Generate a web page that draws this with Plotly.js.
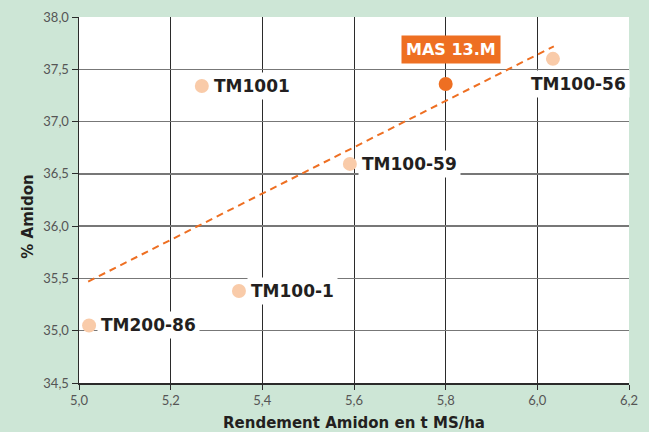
<!DOCTYPE html>
<html>
<head>
<meta charset="utf-8">
<script src="https://cdn.plot.ly/plotly-3.0.1.min.js"></script>
<style>html,body{margin:0;padding:0;background:#cde6d6;}</style>
</head>
<body>
<div id="chart" style="width:649px;height:432px;"></div>
<script>
const names = ["TM200-86", "TM100-1", "TM1001", "TM100-59", "MAS 13.M", "TM100-56"];
const rendement = [5.022, 5.349, 5.268, 5.591, 5.80, 6.034];
const amidon = [35.05, 35.38, 37.34, 36.595, 37.36, 37.60];
const trendX = [5.02, 6.036];
const trendY = [35.47, 37.72];
const highlight = "MAS 13.M";
const yTitle = "% Amidon";
const xTitle = "Rendement Amidon en t MS/ha";

const peach = "#f9cba9";
const orange = "#ee6f22";

const others = names.map((n,i)=>i).filter(i=>names[i]!==highlight);
const hi = names.indexOf(highlight);

const traces = [
  {x: trendX, y: trendY, mode: "lines", line: {color: orange, width: 2, dash: "7px,5px"}, hoverinfo: "skip"},
  {x: others.map(i=>rendement[i]), y: others.map(i=>amidon[i]), mode: "markers",
   marker: {color: peach, size: 14}},
  {x: [rendement[hi]], y: [amidon[hi]], mode: "markers", marker: {color: orange, size: 14}}
];

const FF = "DejaVu Sans, sans-serif";
const labelFont = {family: FF, size: 17, color: "#231f20"};
const anns = [];
names.forEach((n,i)=>{
  if (n === highlight) {
    anns.push({x: rendement[i], y: amidon[i], xref: "x", yref: "y", text: "<b>" + n + "</b>",
      showarrow: false, xanchor: "center", yanchor: "middle", xshift: 5, yshift: 34,
      bgcolor: orange, font: {family: FF, size: 16, color: "#ffffff"}, borderpad: 4});
  } else if (n === "TM100-56") {
    anns.push({x: rendement[i], y: amidon[i], xref: "x", yref: "y", text: "<b>" + n + "</b>",
      showarrow: false, xanchor: "center", yanchor: "middle", xshift: 26, yshift: -25,
      bgcolor: "#ffffff", font: labelFont, borderpad: 3});
  } else {
    anns.push({x: rendement[i], y: amidon[i], xref: "x", yref: "y", text: "<b>" + n + "</b>",
      showarrow: false, xanchor: "left", yanchor: "middle", xshift: 8, yshift: 0,
      bgcolor: "#ffffff", font: labelFont, borderpad: 3});
  }
});
anns.push({xref: "paper", yref: "paper", x: -0.093, y: 0.454, text: "<b>" + yTitle + "</b>",
  textangle: -90, showarrow: false, xanchor: "center", yanchor: "middle",
  font: {family: FF, size: 15, color: "#231f20"}});

const layout = {
  width: 649, height: 432,
  paper_bgcolor: "#cde6d6", plot_bgcolor: "#ffffff",
  margin: {l: 79, r: 20, t: 17, b: 49},
  showlegend: false,
  separators: ",.",
  xaxis: {range: [5.0, 6.2], dtick: 0.2, tick0: 5.0, tickformat: ".1f",
    showgrid: true, gridcolor: "#2b2b2b", gridwidth: 1,
    showline: true, linecolor: "#2b2b2b", linewidth: 1.5,
    ticks: "outside", ticklen: 5, tickcolor: "#2b2b2b",
    zeroline: false,
    tickfont: {family: "Lato, sans-serif", size: 13, color: "#555555"},
    title: {text: "<b>" + xTitle + "</b>", standoff: 10,
      font: {family: FF, size: 15, color: "#231f20"}}},
  yaxis: {range: [34.5, 38.0], dtick: 0.5, tick0: 34.5, tickformat: ".1f",
    showgrid: true, gridcolor: "#777777", gridwidth: 1.5,
    showline: true, linecolor: "#2b2b2b", linewidth: 1.5,
    ticks: "outside", ticklen: 6, tickcolor: "#2b2b2b",
    zeroline: false,
    tickfont: {family: "Lato, sans-serif", size: 13, color: "#555555"}},
  annotations: anns
};

Plotly.newPlot("chart", traces, layout, {displayModeBar: false, staticPlot: true});
</script>
</body>
</html>
